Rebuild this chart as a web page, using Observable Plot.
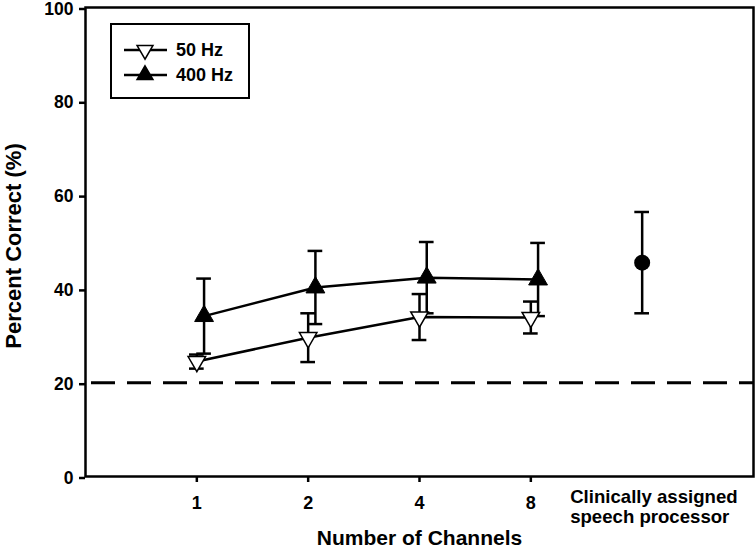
<!DOCTYPE html>
<html>
<head>
<meta charset="utf-8">
<script src="https://cdn.jsdelivr.net/npm/d3@7"></script>
<script src="https://cdn.jsdelivr.net/npm/@observablehq/plot@0.6"></script>
<style>
  html, body { margin: 0; padding: 0; background: #fff; }
  #wrap { position: relative; width: 756px; height: 551px; }
  #legend {
    position: absolute; left: 110px; top: 23px; width: 136px; height: 72px;
    border: 2px solid #000; background: #fff;
    font-family: "Liberation Sans", Arial, sans-serif; font-weight: bold; font-size: 18px;
  }
  #legend .row { position: absolute; left: 0; height: 26px; display: flex; align-items: center; }
  #legend svg { display: block; }
  #legend span { margin-left: 8px; }
</style>
</head>
<body>
<div id="wrap"></div>
<script>
// ---- data ----
const channelLabels = ["1", "2", "4", "8"];
const series = ["50 Hz", "400 Hz"];
const mean50 = [24.5, 29.6, 34.0, 33.9];
const err50 = [1.5, 5.2, 4.9, 3.4];
const mean400 = [34.2, 40.3, 42.4, 42.0];
const err400 = [8.0, 7.8, 7.6, 7.8];
const clinicalLabel = "Clinically assigned\nspeech processor";
const clinicalMean = [45.6];
const clinicalErr = [10.8];
const chanceLevel = [20];
const yTicks = [0, 20, 40, 60, 80, 100];

// ---- build tables ----
const off400 = 0.065; // horizontal offset of the 400 Hz series
const d50 = channelLabels.map((c, i) => ({pos: i + 1, mean: mean50[i], lo: mean50[i] - err50[i], hi: mean50[i] + err50[i]}));
const d400 = channelLabels.map((c, i) => ({pos: i + 1 + off400, mean: mean400[i], lo: mean400[i] - err400[i], hi: mean400[i] + err400[i]}));
const dClin = clinicalMean.map((m, i) => ({pos: channelLabels.length + 1 + i, mean: m, lo: m - clinicalErr[i], hi: m + clinicalErr[i]}));

const capHalf = 0.066;
const SW = 2.5;
const font = "'Liberation Sans', Arial, sans-serif";

function errorBars(data) {
  return [
    Plot.ruleX(data, {x: "pos", y1: "lo", y2: "hi", strokeWidth: SW}),
    Plot.ruleY(data, {y: "hi", x1: d => d.pos - capHalf, x2: d => d.pos + capHalf, strokeWidth: SW}),
    Plot.ruleY(data, {y: "lo", x1: d => d.pos - capHalf, x2: d => d.pos + capHalf, strokeWidth: SW})
  ];
}

const chart = Plot.plot({
  width: 756,
  height: 551,
  marginLeft: 85,
  marginRight: 3,
  marginTop: 7,
  marginBottom: 75,
  style: {fontFamily: font, background: "#fff", color: "#000", overflow: "visible"},
  x: {domain: [0, channelLabels.length + 2], axis: null},
  y: {domain: [0, 100], axis: null},
  marks: [
    Plot.ruleY(chanceLevel, {strokeWidth: 3, strokeDasharray: "24,12", strokeDashoffset: -6}),
    // 50 Hz
    Plot.line(d50, {x: "pos", y: "mean", strokeWidth: SW}),
    ...errorBars(d50),
    // 400 Hz
    Plot.line(d400, {x: "pos", y: "mean", strokeWidth: SW}),
    ...errorBars(d400),
    Plot.dot(d50, {x: "pos", y: "mean", symbol: "triangle", rotate: 180, r: 6.5, fill: "#fff", stroke: "#000", strokeWidth: 1.5}),
    Plot.dot(d400, {x: "pos", y: "mean", symbol: "triangle", r: 7, fill: "#000", stroke: "#000", strokeWidth: 1}),
    // clinical
    ...errorBars(dClin),
    Plot.dot(dClin, {x: "pos", y: "mean", r: 8, fill: "#000"}),
    // axes
    Plot.axisY({ticks: yTicks, tickSize: 6, tickPadding: 6, dy: 1.5, fontSize: 17.5, fontWeight: "bold", strokeWidth: SW, label: null}),
    Plot.axisX({ticks: channelLabels.map((c, i) => i + 1), tickFormat: v => channelLabels[v - 1], tickSize: 6, tickPadding: 14, fontSize: 18, fontWeight: "bold", strokeWidth: SW, label: null}),
    Plot.text([clinicalLabel], {x: channelLabels.length + 1, frameAnchor: "bottom", dy: 12, dx: -72, textAnchor: "start", lineAnchor: "top", lineHeight: 1.1, fontSize: 18.6, fontWeight: "bold"}),
    Plot.text(["Number of Channels"], {frameAnchor: "bottom", textAnchor: "middle", lineAnchor: "middle", dy: 62, fontSize: 21, fontWeight: "bold"}),
    Plot.text(["Percent Correct (%)"], {frameAnchor: "left", textAnchor: "middle", lineAnchor: "middle", dx: -72, dy: 4, rotate: -90, fontSize: 22, fontWeight: "bold"}),
    Plot.frame({strokeWidth: SW})
  ]
});

const wrap = document.getElementById("wrap");
wrap.appendChild(chart);

// legend (inside plot area, top-left)
const legend = document.createElement("div");
legend.id = "legend";
const rows = [
  {label: series[0], fill: "#fff", rot: 180},
  {label: series[1], fill: "#000", rot: 0}
];
rows.forEach((r, i) => {
  const row = document.createElement("div");
  row.className = "row";
  row.style.left = "11px";
  row.style.top = (12 + i * 25) + "px";
  const sym = d3.symbol(d3.symbolTriangle, 110)();
  row.innerHTML = `<svg width="45" height="24"><line x1="1" x2="44" y1="12" y2="12" stroke="#000" stroke-width="2.5"/><path d="${sym}" transform="translate(22,12) rotate(${r.rot})" fill="${r.fill}" stroke="#000" stroke-width="1.5"/></svg><span>${r.label}</span>`;
  legend.appendChild(row);
});
wrap.appendChild(legend);
</script>
</body>
</html>
